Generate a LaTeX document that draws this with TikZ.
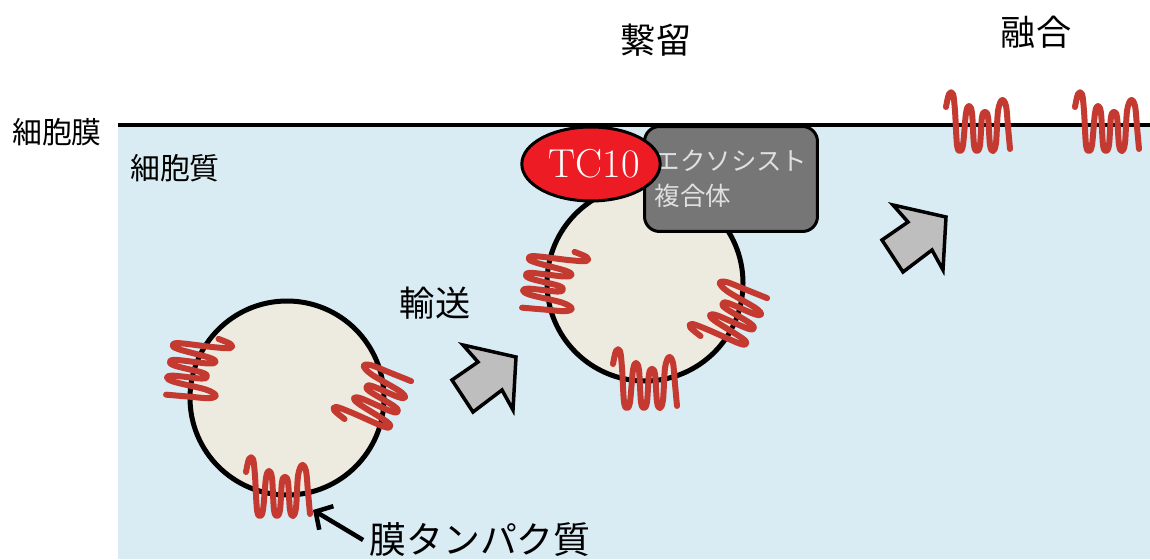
\documentclass[tikz,border=0pt]{standalone}
\usepackage{fontspec}
\usepackage{tikz}
\usetikzlibrary{shapes.geometric,arrows.meta}
\newfontfamily\jpfont{Noto Sans CJK JP}
\definecolor{cytoblue}{RGB}{217,236,244}
\definecolor{vesiclebeige}{RGB}{237,234,224}
\definecolor{protred}{RGB}{196,58,48}
\definecolor{tcred}{RGB}{237,28,36}
\definecolor{exogray}{RGB}{118,118,118}
\definecolor{arrowgray}{RGB}{190,190,190}

\tikzset{
    % membrane protein squiggle, crossing point at the origin
    protein/.pic={
        \draw[protred, line width=0.12cm, line cap=round, line join=round]
            plot[smooth, tension=0.55] coordinates {
                (-33,14) (-30,27) (-26,27) (-24,10) (-22,-24) (-19,-30) (-16,-24)
                (-13,8) (-10,15) (-7,8) (-5,-24) (-2,-30) (1,-24)
                (3,4) (6,9) (9,4) (11,-24) (14,-30) (17,-22)
                (19,10) (23,21) (27,15) (29,-6) (31,-28)};
    },
    % fat grey arrow for the transport steps
    movearrow/.pic={
        \draw[line width=0.07cm, fill=arrowgray, line join=miter]
            (-22,35) -- (31,23) -- (28,-30) -- (17,-10) -- (-12,-32) -- (-33,0) -- (-7,18) -- cycle;
    },
    vesicle/.style={draw, line width=0.1cm, fill=vesiclebeige},
    label/.style={font=\jpfont\fontsize{20}{24}\selectfont}
}

\begin{document}
\begin{tikzpicture}[x=0.02cm, y=0.02cm]
    \useasboundingbox (0,0) rectangle (1150,559);

    % Cytoplasm and plasma membrane
    \fill[cytoblue] (118,0) rectangle (1150,434);
    \draw[line width=0.08cm] (118,434) -- (1150,434);
    \node[font=\jpfont\fontsize{17}{20}\selectfont] (pm) at (57,427) {細胞膜};
    \node[font=\jpfont\fontsize{17}{20}\selectfont] (cyto) at (175,391) {細胞質};

    % Step labels
    \node[label] (tether) at (656,519) {繋留};
    \node[label] (fusion) at (1036,527) {融合};
    \node[label] (transport) at (435,256) {輸送};

    % Vesicle on its way
    \draw[vesicle] (287,161) circle (97);
    \pic[rotate=-100] (p1) at (199,190) {protein};
    \pic[rotate=63] (p2) at (372,163) {protein};
    \pic (p3) at (279,73) {protein};

    % Tethered vesicle
    \draw[vesicle] (645,276) circle (98);
    \pic[rotate=-100] (p4) at (555,277) {protein};
    \pic[rotate=63] (p5) at (728,246) {protein};
    \pic (p6) at (646,181) {protein};

    % Exocyst and TC10
    \node[draw, line width=0.06cm, rounded corners=0.3cm, fill=exogray,
          minimum width=3.46cm, minimum height=2.1cm, align=left,
          text=white!88!black, font=\jpfont\fontsize{14.5}{20}\selectfont]
          (exo) at (731,380) {エクソシスト\\複合体};
    \node[draw, ellipse, line width=0.06cm, fill=tcred, text=white,
          minimum width=2.64cm, minimum height=1.48cm, inner sep=0pt,
          font=\fontsize{23}{26}\selectfont] (tc10) at (591,395) {\,TC10};

    % Fused proteins in the membrane
    \pic (p7) at (979,438) {protein};
    \pic (p8) at (1108,438) {protein};

    % Arrows
    \pic (a1) at (485,179) {movearrow};
    \pic (a2) at (915,319) {movearrow};

    % Pointer to a membrane protein
    \node[font=\jpfont\fontsize{21}{24}\selectfont] (memprot) at (480,19) {膜タンパク質};
    \coordinate (ptip) at (313,49);
    \draw[line width=0.09cm, -{Straight Barb[length=0.25cm, width=0.55cm]}] (memprot.west) -- (ptip);
\end{tikzpicture}
\end{document}
